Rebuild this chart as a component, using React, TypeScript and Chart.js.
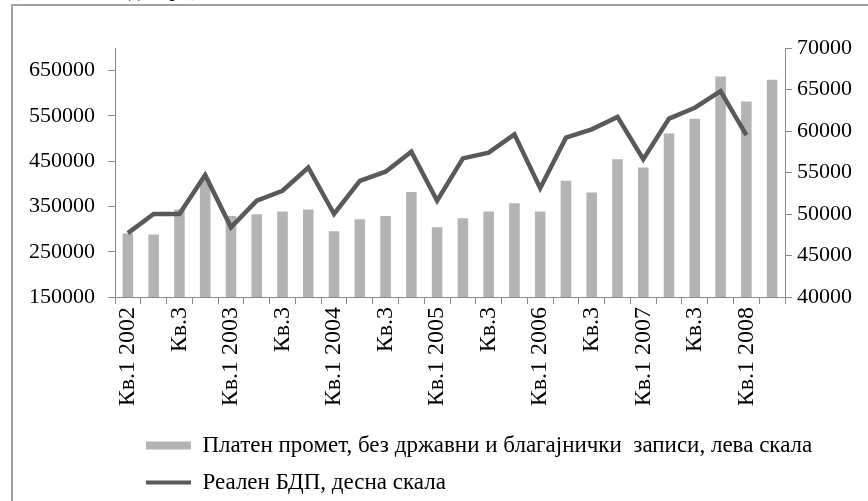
import React, { useEffect, useRef } from "react";
import { Chart, registerables } from "chart.js";

Chart.register(...registerables);

const categories = [
  "Кв.1 2002", "Кв.2", "Кв.3", "Кв.4",
  "Кв.1 2003", "Кв.2", "Кв.3", "Кв.4",
  "Кв.1 2004", "Кв.2", "Кв.3", "Кв.4",
  "Кв.1 2005", "Кв.2", "Кв.3", "Кв.4",
  "Кв.1 2006", "Кв.2", "Кв.3", "Кв.4",
  "Кв.1 2007", "Кв.2", "Кв.3", "Кв.4",
  "Кв.1 2008", "Кв.2",
];

const paymentTurnover = [
  290000, 288000, 343000, 410000, 329000, 333000, 339000, 343000,
  295000, 322000, 329000, 382000, 304000, 324000, 339000, 357000,
  339000, 407000, 381000, 454000, 436000, 511000, 544000, 637000,
  582000, 630000,
];

const realGdp = [
  47700, 50000, 50000, 54700, 48400, 51600, 52800, 55600,
  50000, 54000, 55100, 57500, 51600, 56700, 57400, 59600,
  53100, 59200, 60200, 61700, 56600, 61500, 62800, 64800,
  59500, null,
];

const leftTicks = [150000, 250000, 350000, 450000, 550000, 650000];
const rightTicks = [40000, 45000, 50000, 55000, 60000, 65000, 70000];

const barLabel = "Платен промет, без државни и благајнички  записи, лева скала";
const lineLabel = "Реален БДП, десна скала";
const unitNote = "(во милиони денари)";

const FONT = "'Liberation Serif', 'Times New Roman', serif";

export default function App() {
  const ref = useRef<HTMLCanvasElement | null>(null);

  useEffect(() => {
    if (!ref.current) return;
    const legendShift = {
      id: "legendShift",
      afterLayout(chart: any) {
        if (chart.legend) {
          chart.legend.left = 132;
          chart.legend.top += 3;
        }
      },
    };
    const chart = new Chart(ref.current, {
      type: "bar",
      data: {
        labels: categories,
        datasets: [
          {
            type: "bar",
            label: barLabel,
            data: paymentTurnover,
            backgroundColor: "#b3b3b3",
            borderWidth: 0,
            yAxisID: "y",
            order: 1,
            categoryPercentage: 1,
            barPercentage: 0.41,
          } as any,
          {
            type: "line",
            label: lineLabel,
            data: realGdp,
            borderColor: "#595959",
            backgroundColor: "#595959",
            borderWidth: 4.5,
            pointRadius: 0,
            tension: 0,
            yAxisID: "y1",
            order: 0,
          } as any,
        ],
      },
      options: {
        responsive: false,
        animation: false,
        layout: { padding: { top: 48, left: 0, right: 0, bottom: 0 } },
        plugins: {
          tooltip: { enabled: false },
          legend: {
            position: "bottom",
            align: "start",
            labels: {
              color: "#000",
              font: { family: FONT, size: 23 },
              padding: 14,
              usePointStyle: true,
              pointStyleWidth: 45,
              boxHeight: 8,
              sort: (a: any, b: any) => a.datasetIndex - b.datasetIndex,
              generateLabels: (c: any) => {
                const items = Chart.defaults.plugins.legend.labels.generateLabels(c);
                return items.map((it: any) => {
                  if (it.datasetIndex === 0) {
                    return { ...it, pointStyle: "rect", lineWidth: 0, fillStyle: "#b3b3b3", strokeStyle: "#b3b3b3" };
                  }
                  return { ...it, pointStyle: "line", lineWidth: 4, strokeStyle: "#595959", fillStyle: "#595959" };
                });
              },
            },
          },
        },
        scales: {
          x: {
            offset: true,
            grid: {
              display: true,
              drawOnChartArea: false,
              offset: true,
              tickLength: 7,
              color: "#888",
            },
            border: { display: true, color: "#888" },
            ticks: {
              autoSkip: false,
              maxRotation: 90,
              minRotation: 90,
              padding: 3,
              color: "#000",
              font: { family: FONT, size: 24 },
              callback: function (this: any, val: any, idx: number) {
                return idx % 2 === 0 ? this.getLabelForValue(val) : "";
              },
            },
            afterFit: (s: any) => {
              s.height = 120;
            },
          },
          y: {
            position: "left",
            min: 150000,
            max: 700000,
            grid: { display: true, drawOnChartArea: false, tickLength: 7, color: "#888" },
            border: { display: true, color: "#888" },
            ticks: {
              padding: 13,
              color: "#000",
              font: { family: FONT, size: 22 },
              callback: (v: any) => String(v),
            },
            afterBuildTicks: (s: any) => {
              s.ticks = leftTicks.map((v) => ({ value: v }));
            },
            afterFit: (s: any) => {
              s.width = 115;
            },
          },
          y1: {
            position: "right",
            min: 40000,
            max: 70000,
            grid: { display: true, drawOnChartArea: false, tickLength: 7, color: "#888" },
            border: { display: true, color: "#888" },
            ticks: {
              padding: 5,
              color: "#000",
              font: { family: FONT, size: 22 },
              callback: (v: any) => String(v),
            },
            afterBuildTicks: (s: any) => {
              s.ticks = rightTicks.map((v) => ({ value: v }));
            },
            afterFit: (s: any) => {
              s.width = 83;
            },
          },
        },
      },
      plugins: [legendShift],
    });
    return () => chart.destroy();
  }, []);

  return (
    <div
      style={{
        position: "fixed",
        left: 0,
        top: 0,
        width: 868,
        height: 501,
        overflow: "hidden",
        background: "#fff",
      }}
    >
      <div
        style={{
          position: "absolute",
          left: 12,
          top: -21,
          fontFamily: FONT,
          fontSize: 21,
          lineHeight: "21px",
          color: "#000",
          whiteSpace: "nowrap",
        }}
      >
        {unitNote}
      </div>
      <div
        style={{
          position: "absolute",
          left: 11,
          top: 4,
          width: 900,
          height: 600,
          border: "2px solid #a0a0a0",
        }}
      />
      <canvas
        ref={ref}
        width={868}
        height={501}
        style={{ position: "absolute", left: 0, top: 0, width: 868, height: 501 }}
      />
    </div>
  );
}
